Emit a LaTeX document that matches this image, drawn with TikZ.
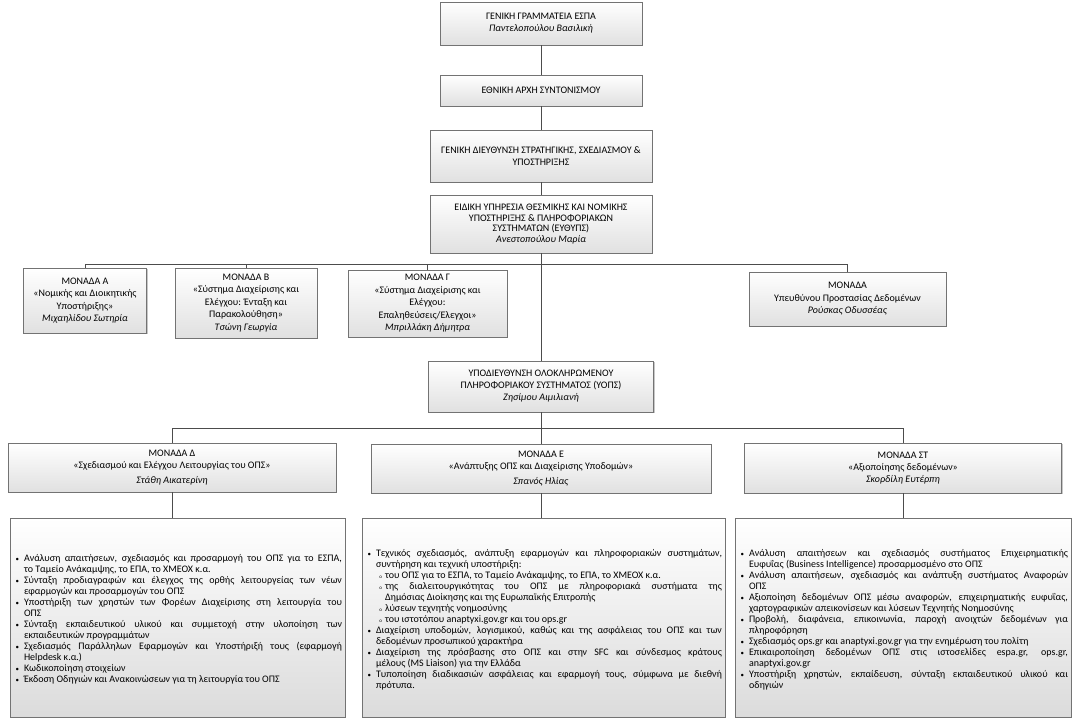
\documentclass[tikz,border=0pt]{standalone}
\usepackage{fontspec}
\setmainfont{Carlito}
\usepackage{enumitem}
\usetikzlibrary{positioning}
\setlist[itemize,1]{label={\scriptsize\textbullet}, leftmargin=11pt, labelsep=5pt, itemsep=0pt, parsep=0pt, topsep=0pt, partopsep=0pt}
\setlist[itemize,2]{label={\tiny o}, leftmargin=9pt, labelsep=3pt, itemsep=0pt, parsep=0pt, topsep=0pt, partopsep=0pt}

\begin{document}
\begin{tikzpicture}[x=1pt, y=-1pt,
    shade/.style = {preaction={draw=none, fill=black!22, transform canvas={xshift=1.3pt, yshift=-1.3pt}}},
    box/.style = {rectangle, shade, draw=black!55, line width=0.7pt, top color=white, bottom color=black!12, align=center, font=\fontsize{10}{12}\selectfont, inner sep=2pt, outer sep=0pt,
        append after command={\pgfextra{\draw [black!50, line width=0.5pt] ([shift={(1.8pt,1.8pt)}]\tikzlastnode.south west) rectangle ([shift={(-1.8pt,-1.8pt)}]\tikzlastnode.north east);}}},
    unit/.style = {box, font=\fontsize{10}{12.5}\selectfont},
    duty/.style = {rectangle, shade, draw=black!55, line width=0.6pt, top color=white, bottom color=black!14, align=justify, font=\fontsize{10}{11}\selectfont, inner xsep=3pt, minimum height=199pt, outer sep=0pt},
    link/.style = {draw=black!70, line width=0.9pt}
]
\useasboundingbox (0,0) rectangle (1080,723);

\coordinate (ubar) at (541,264);
\coordinate (sbar) at (541,428);

\node (gs) [box, minimum width=202pt, minimum height=43pt] at (541,23.5) {ΓΕΝΙΚΗ ΓΡΑΜΜΑΤΕΙΑ ΕΣΠΑ\\\textit{Παντελοπούλου Βασιλική}};
\node (ea) [box, minimum width=202pt, minimum height=31pt] at (541,90.5) {ΕΘΝΙΚΗ ΑΡΧΗ ΣΥΝΤΟΝΙΣΜΟΥ};
\node (gd) [box, minimum width=222pt, minimum height=52pt] at (541,156) {ΓΕΝΙΚΗ ΔΙΕΥΘΥΝΣΗ ΣΤΡΑΤΗΓΙΚΗΣ, ΣΧΕΔΙΑΣΜΟΥ \&\\ΥΠΟΣΤΗΡΙΞΗΣ};
\node (eu) [box, minimum width=222pt, minimum height=58pt, font=\fontsize{10}{10.8}\selectfont] at (541,224) {ΕΙΔΙΚΗ ΥΠΗΡΕΣΙΑ ΘΕΣΜΙΚΗΣ ΚΑΙ ΝΟΜΙΚΗΣ\\ΥΠΟΣΤΗΡΙΞΗΣ \& ΠΛΗΡΟΦΟΡΙΑΚΩΝ\\ΣΥΣΤΗΜΑΤΩΝ (ΕΥΘΥΠΣ)\\\textit{Ανεστοπούλου Μαρία}};

% monades of EYTHYPS
\node (ma) [unit, minimum width=123pt, minimum height=65pt] at (85,300.5) {ΜΟΝΑΔΑ Α\\«Νομικής και Διοικητικής\\Υποστήριξης»\\\textit{Μιχαηλίδου Σωτηρία}};
\node (mb) [unit, minimum width=142pt, minimum height=70pt] at (246,303) {ΜΟΝΑΔΑ Β\\«Σύστημα Διαχείρισης και\\Ελέγχου: Ένταξη και\\Παρακολούθηση»\\\textit{Τσώνη Γεωργία}};
\node (mg) [unit, minimum width=159pt, minimum height=67pt] at (427.5,303.5) {ΜΟΝΑΔΑ Γ\\«Σύστημα Διαχείρισης και\\Ελέγχου:\\Επαληθεύσεις/Ελεγχοι»\\\textit{Μπριλλάκη Δήμητρα}};
\node (mp) [unit, minimum width=197pt, minimum height=54pt] at (847.5,299) {ΜΟΝΑΔΑ\\Υπευθύνου Προστασίας Δεδομένων\\\textit{Ρούσκας Οδυσσέας}};

\node (yops) [box, minimum width=225pt, minimum height=51pt] at (541,386.5) {ΥΠΟΔΙΕΥΘΥΝΣΗ ΟΛΟΚΛΗΡΩΜΕΝΟΥ\\ΠΛΗΡΟΦΟΡΙΑΚΟΥ ΣΥΣΤΗΜΑΤΟΣ (ΥΟΠΣ)\\\textit{Ζησίμου Αιμιλιανή}};

% monades of YOPS
\node (md) [box, minimum width=328pt, minimum height=49pt] at (172,467.5) {ΜΟΝΑΔΑ Δ\\«Σχεδιασμού και Ελέγχου Λειτουργίας του ΟΠΣ»\\[3pt]\textit{Στάθη Αικατερίνη}};
\node (me) [box, minimum width=340pt, minimum height=49pt] at (541,468.5) {ΜΟΝΑΔΑ Ε\\«Ανάπτυξης ΟΠΣ και Διαχείρισης Υποδομών»\\[3pt]\textit{Σπανός Ηλίας}};
\node (mst) [box, minimum width=317pt, minimum height=50pt] at (903,468) {ΜΟΝΑΔΑ ΣΤ\\«Αξιοποίησης δεδομένων»\\\textit{Σκορδίλη Ευτέρπη}};

% responsibilities
\node (td) [duty, text width=329pt] at (177.5,617.5) {%
\begin{itemize}
\item Ανάλυση απαιτήσεων, σχεδιασμός και προσαρμογή του ΟΠΣ για το ΕΣΠΑ,\linebreak το Ταμείο Ανάκαμψης, το ΕΠΑ, το ΧΜΕΟΧ κ.α.
\item Σύνταξη προδιαγραφών και έλεγχος της ορθής λειτουργείας των νέων\linebreak εφαρμογών και προσαρμογών του ΟΠΣ
\item Υποστήριξη των χρηστών των Φορέων Διαχείρισης στη λειτουργία του\linebreak ΟΠΣ
\item Σύνταξη εκπαιδευτικού υλικού και συμμετοχή στην υλοποίηση των\linebreak εκπαιδευτικών προγραμμάτων
\item Σχεδιασμός Παράλληλων Εφαρμογών και Υποστήριξή τους (εφαρμογή\linebreak Helpdesk κ.α.)
\item Κωδικοποίηση στοιχείων
\item Έκδοση Οδηγιών και Ανακοινώσεων για τη λειτουργία του ΟΠΣ
\end{itemize}};
\node (te) [duty, text width=357pt] at (543.5,617.5) {%
\begin{itemize}
\item Τεχνικός σχεδιασμός, ανάπτυξη εφαρμογών και πληροφοριακών συστημάτων,\linebreak συντήρηση και τεχνική υποστήριξη:
\begin{itemize}
\item του ΟΠΣ για το ΕΣΠΑ, το Ταμείο Ανάκαμψης, το ΕΠΑ, το ΧΜΕΟΧ κ.α.
\item της διαλειτουργικότητας του ΟΠΣ με πληροφοριακά συστήματα της\linebreak Δημόσιας Διοίκησης και της Ευρωπαϊκής Επιτροπής
\item λύσεων τεχνητής νοημοσύνης
\item του ιστοτόπου anaptyxi.gov.gr και του ops.gr
\end{itemize}
\item Διαχείριση υποδομών, λογισμικού, καθώς και της ασφάλειας του ΟΠΣ και των\linebreak δεδομένων προσωπικού χαρακτήρα
\item Διαχείριση της πρόσβασης στο ΟΠΣ και στην SFC και σύνδεσμος κράτους\linebreak μέλους (MS Liaison) για την Ελλάδα
\item Τυποποίηση διαδικασιών ασφάλειας και εφαρμογή τους, σύμφωνα με διεθνή\linebreak πρότυπα.
\end{itemize}};
\node (tst) [duty, text width=330pt] at (903,617.5) {%
\begin{itemize}
\item Ανάλυση απαιτήσεων και σχεδιασμός συστήματος Επιχειρηματικής\linebreak Ευφυΐας (Business Intelligence) προσαρμοσμένο στο ΟΠΣ
\item Ανάλυση απαιτήσεων, σχεδιασμός και ανάπτυξη συστήματος Αναφορών\linebreak ΟΠΣ
\item Αξιοποίηση δεδομένων ΟΠΣ μέσω αναφορών, επιχειρηματικής ευφυΐας,\linebreak χαρτογραφικών απεικονίσεων και λύσεων Τεχνητής Νοημοσύνης
\item Προβολή, διαφάνεια, επικοινωνία, παροχή ανοιχτών δεδομένων για\linebreak πληροφόρηση
\item Σχεδιασμός ops.gr και anaptyxi.gov.gr για την ενημέρωση του πολίτη
\item Επικαιροποίηση δεδομένων ΟΠΣ στις ιστοσελίδες espa.gr, ops.gr,\linebreak anaptyxi.gov.gr
\item Υποστήριξη χρηστών, εκπαίδευση, σύνταξη εκπαιδευτικού υλικού και\linebreak οδηγιών
\end{itemize}};

\draw [link] (gs.south) -- (ea.north);
\draw [link] (ea.south) -- (gd.north);
\draw [link] (gd.south) -- (eu.north);
\draw [link] (eu.south) -- (yops.north);
\draw [link] (ubar) -| (ma.north);
\draw [link] (ubar) -| (mb.north);
\draw [link] (ubar) -| (mg.north);
\draw [link] (ubar) -| (mp.north);
\draw [link] (yops.south) -- (me.north);
\draw [link] (sbar) -| (md.north);
\draw [link] (sbar) -| (mst.north);
\draw [link] (md.south) -- (md.south |- td.north);
\draw [link] (me.south) -- (me.south |- te.north);
\draw [link] (mst.south) -- (mst.south |- tst.north);
\end{tikzpicture}
\end{document}
